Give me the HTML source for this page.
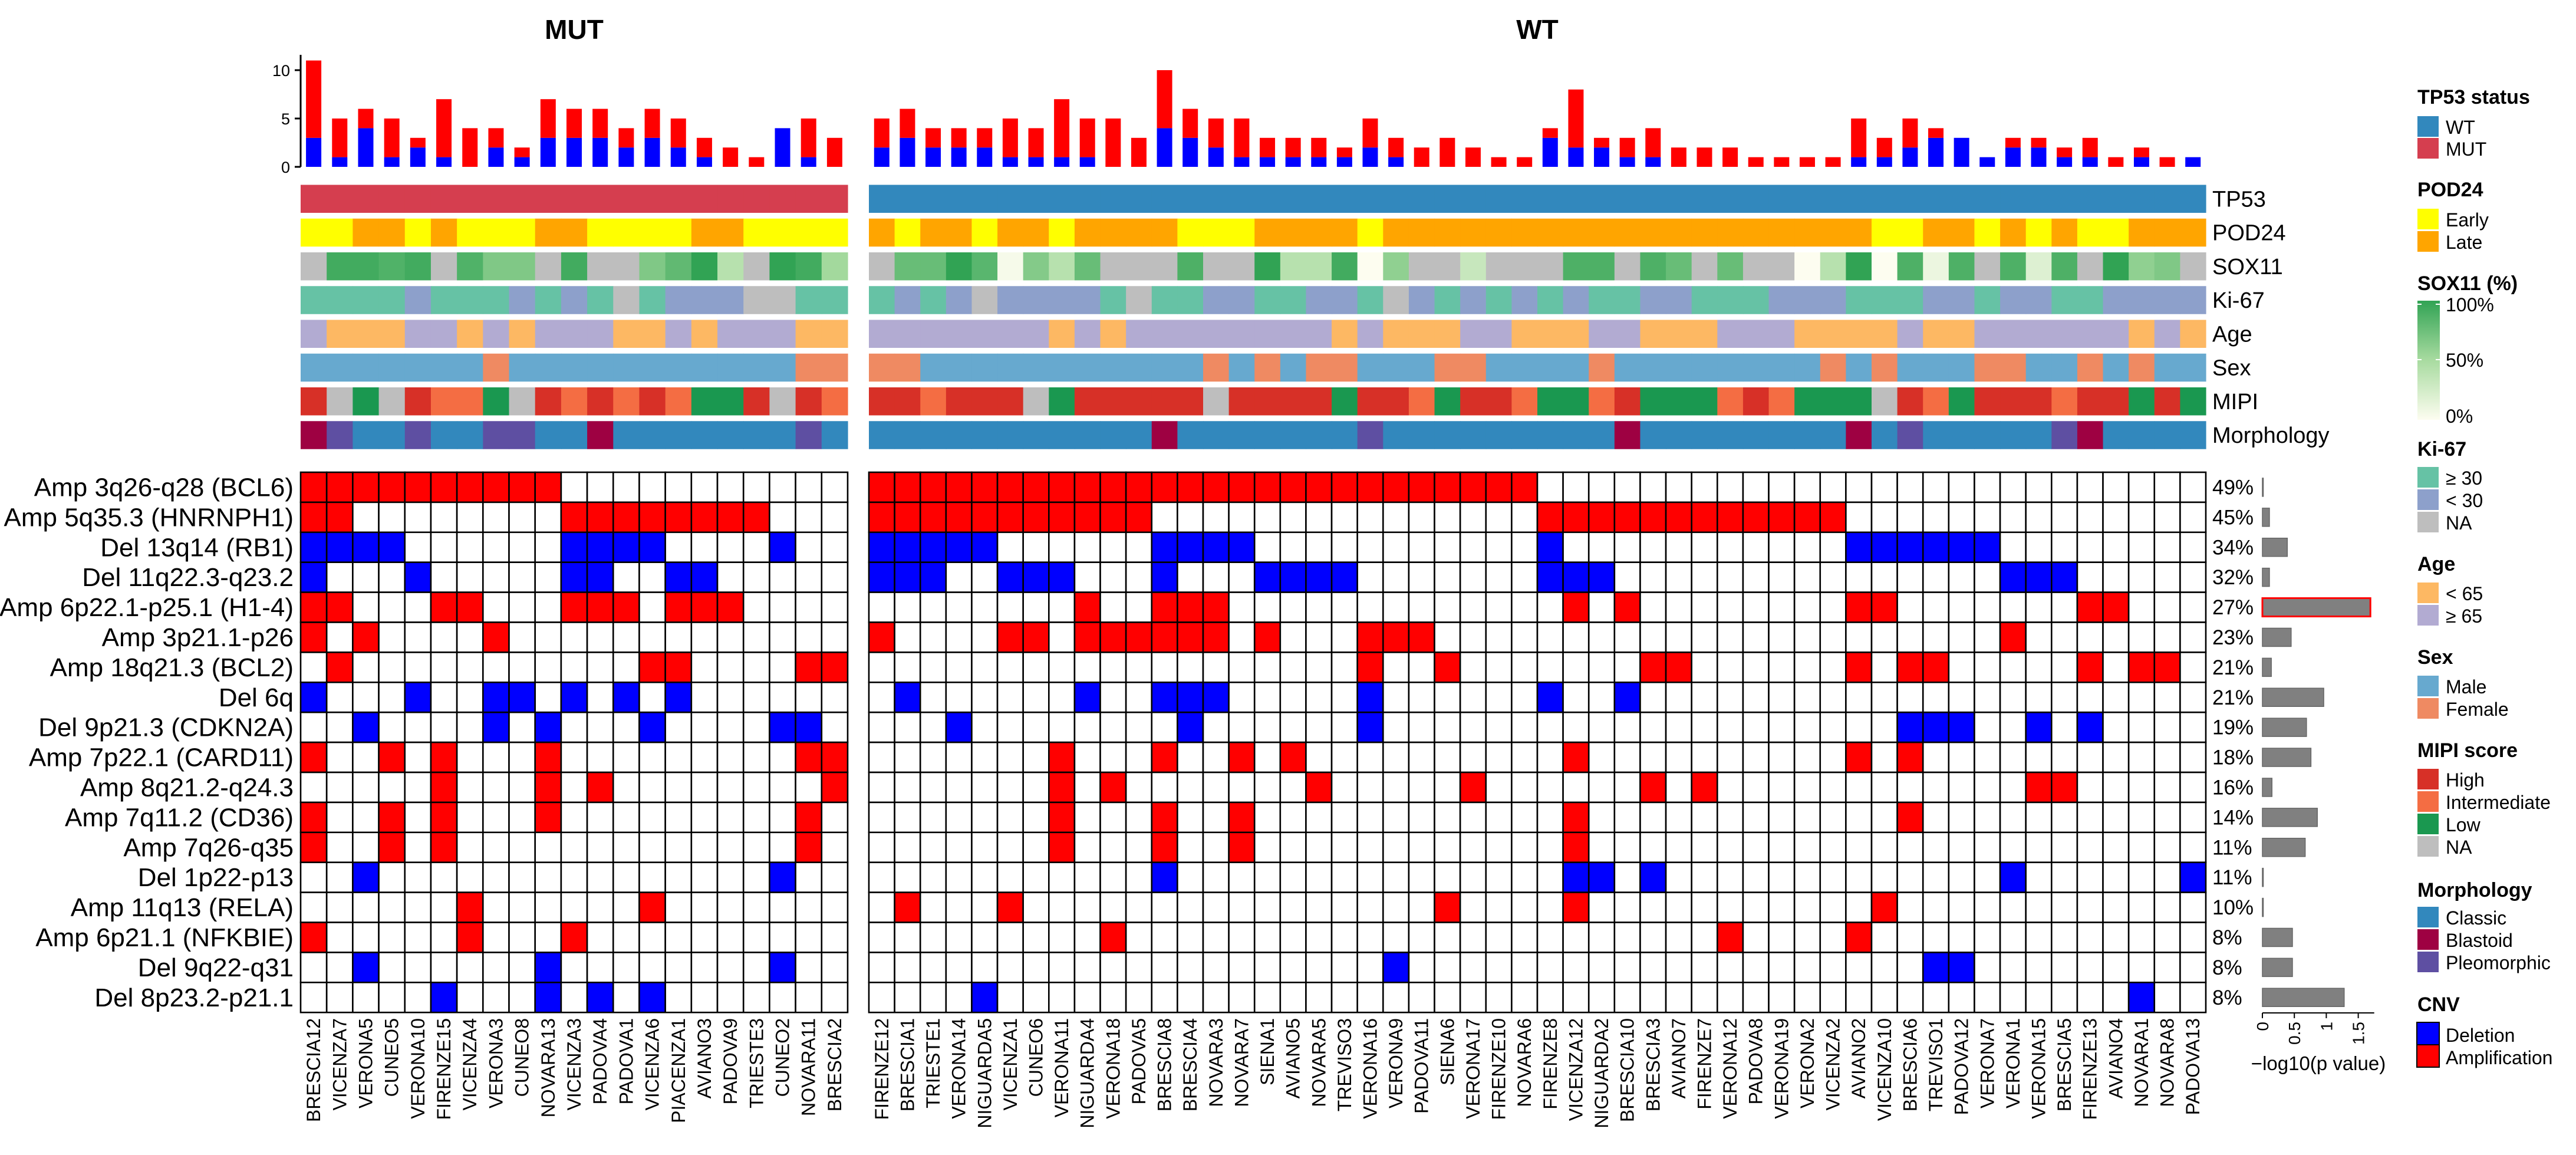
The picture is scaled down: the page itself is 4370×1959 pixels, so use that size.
<!DOCTYPE html>
<html><head><meta charset="utf-8"><title>CNV oncoprint</title>
<style>
html,body{margin:0;padding:0;background:#fff;}
svg{display:block;font-family:"Liberation Sans",Arial,sans-serif;}
</style></head>
<body>
<svg id="chart" xmlns="http://www.w3.org/2000/svg" width="4370" height="1959" viewBox="0 0 4370 1959">
<defs>
<linearGradient id="soxgrad" x1="0" y1="0" x2="0" y2="1">
<stop offset="0" stop-color="#31a354"/><stop offset="0.5" stop-color="#a8dba0"/><stop offset="1" stop-color="#fdfdf0"/>
</linearGradient>
</defs>
<text x="974" y="66" font-size="46" font-weight="bold" text-anchor="middle">MUT</text>
<text x="2608" y="66" font-size="46" font-weight="bold" text-anchor="middle">WT</text>
<g id="legend" font-size="32">
<text x="4101" y="176" font-size="34" font-weight="bold">TP53 status</text>
<rect x="4101" y="197" width="36" height="35" fill="#3288bd"/><text x="4149" y="227">WT</text>
<rect x="4101" y="234" width="36" height="35" fill="#d53e4f"/><text x="4149" y="264">MUT</text>
<text x="4101" y="333" font-size="34" font-weight="bold">POD24</text>
<rect x="4101" y="354" width="36" height="35" fill="#ffff00"/><text x="4149" y="384">Early</text>
<rect x="4101" y="392" width="36" height="35" fill="#ffa500"/><text x="4149" y="422">Late</text>
<text x="4101" y="492" font-size="34" font-weight="bold">SOX11 (%)</text>
<rect x="4101" y="510" width="38" height="202" fill="url(#soxgrad)"/>
<line x1="4101" y1="516" x2="4108" y2="516" stroke="#fff" stroke-width="2"/><line x1="4132" y1="516" x2="4139" y2="516" stroke="#fff" stroke-width="2"/>
<line x1="4101" y1="610" x2="4108" y2="610" stroke="#fff" stroke-width="2"/><line x1="4132" y1="610" x2="4139" y2="610" stroke="#fff" stroke-width="2"/>
<text x="4149" y="528">100%</text>
<text x="4149" y="622">50%</text>
<text x="4149" y="717">0%</text>
<text x="4101" y="773" font-size="34" font-weight="bold">Ki-67</text>
<rect x="4101" y="792" width="36" height="35" fill="#66c2a5"/><text x="4149" y="822">≥ 30</text>
<rect x="4101" y="830" width="36" height="35" fill="#8da0cb"/><text x="4149" y="860">&lt; 30</text>
<rect x="4101" y="868" width="36" height="35" fill="#bebebe"/><text x="4149" y="898">NA</text>
<text x="4101" y="968" font-size="34" font-weight="bold">Age</text>
<rect x="4101" y="988" width="36" height="35" fill="#fdb863"/><text x="4149" y="1018">&lt; 65</text>
<rect x="4101" y="1026" width="36" height="35" fill="#b2abd2"/><text x="4149" y="1056">≥ 65</text>
<text x="4101" y="1126" font-size="34" font-weight="bold">Sex</text>
<rect x="4101" y="1146" width="36" height="35" fill="#67a9cf"/><text x="4149" y="1176">Male</text>
<rect x="4101" y="1184" width="36" height="35" fill="#ef8a62"/><text x="4149" y="1214">Female</text>
<text x="4101" y="1284" font-size="34" font-weight="bold">MIPI score</text>
<rect x="4101" y="1304" width="36" height="35" fill="#d73027"/><text x="4149" y="1334">High</text>
<rect x="4101" y="1342" width="36" height="35" fill="#f46d43"/><text x="4149" y="1372">Intermediate</text>
<rect x="4101" y="1380" width="36" height="35" fill="#1a9850"/><text x="4149" y="1410">Low</text>
<rect x="4101" y="1418" width="36" height="35" fill="#bebebe"/><text x="4149" y="1448">NA</text>
<text x="4101" y="1521" font-size="34" font-weight="bold">Morphology</text>
<rect x="4101" y="1538" width="36" height="35" fill="#3288bd"/><text x="4149" y="1568">Classic</text>
<rect x="4101" y="1576" width="36" height="35" fill="#9e0142"/><text x="4149" y="1606">Blastoid</text>
<rect x="4101" y="1614" width="36" height="35" fill="#5e4fa2"/><text x="4149" y="1644">Pleomorphic</text>
<text x="4101" y="1715" font-size="34" font-weight="bold">CNV</text>
<rect x="4100" y="1734" width="38" height="38" fill="#0000ff" stroke="#000" stroke-width="2"/><text x="4149" y="1767">Deletion</text>
<rect x="4100" y="1772" width="38" height="38" fill="#ff0000" stroke="#000" stroke-width="2"/><text x="4149" y="1805">Amplification</text>
</g>
</svg>
<script>
// ---------- data ----------
const rowLabels = ["Amp 3q26-q28 (BCL6)","Amp 5q35.3 (HNRNPH1)","Del 13q14 (RB1)","Del 11q22.3-q23.2","Amp 6p22.1-p25.1 (H1-4)","Amp 3p21.1-p26","Amp 18q21.3 (BCL2)","Del 6q","Del 9p21.3 (CDKN2A)","Amp 7p22.1 (CARD11)","Amp 8q21.2-q24.3","Amp 7q11.2 (CD36)","Amp 7q26-q35","Del 1p22-p13","Amp 11q13 (RELA)","Amp 6p21.1 (NFKBIE)","Del 9q22-q31","Del 8p23.2-p21.1"];
const mutSamples = ["BRESCIA12","VICENZA7","VERONA5","CUNEO5","VERONA10","FIRENZE15","VICENZA4","VERONA3","CUNEO8","NOVARA13","VICENZA3","PADOVA4","PADOVA1","VICENZA6","PIACENZA1","AVIANO3","PADOVA9","TRIESTE3","CUNEO2","NOVARA11","BRESCIA2"];
const wtSamples = ["FIRENZE12","BRESCIA1","TRIESTE1","VERONA14","NIGUARDA5","VICENZA1","CUNEO6","VERONA11","NIGUARDA4","VERONA18","PADOVA5","BRESCIA8","BRESCIA4","NOVARA3","NOVARA7","SIENA1","AVIANO5","NOVARA5","TREVISO3","VERONA16","VERONA9","PADOVA11","SIENA6","VERONA17","FIRENZE10","NOVARA6","FIRENZE8","VICENZA12","NIGUARDA2","BRESCIA10","BRESCIA3","AVIANO7","FIRENZE7","VERONA12","PADOVA8","VERONA19","VERONA2","VICENZA2","AVIANO2","VICENZA10","BRESCIA6","TREVISO1","PADOVA12","VERONA7","VERONA1","VERONA15","BRESCIA5","FIRENZE13","AVIANO4","NOVARA1","NOVARA8","PADOVA13"];
// altered sample positions (1-based) per alteration row
const mutAltered = [[1,2,3,4,5,6,7,8,9,10],[1,2,11,12,13,14,15,16,17,18],[1,2,3,4,11,12,13,14,19],[1,5,11,12,15,16],[1,2,6,7,11,12,13,15,16,17],[1,3,8],[2,14,15,20,21],[1,5,8,9,11,13,15],[3,8,10,14,19,20],[1,4,6,10,20,21],[6,10,12,21],[1,4,6,10,20],[1,4,6,20],[3,19],[7,14],[1,7,11],[3,10,19],[6,10,12,14]];
const wtAltered = [[1,2,3,4,5,6,7,8,9,10,11,12,13,14,15,16,17,18,19,20,21,22,23,24,25,26],[1,2,3,4,5,6,7,8,9,10,11,27,28,29,30,31,32,33,34,35,36,37,38],[1,2,3,4,5,12,13,14,15,27,39,40,41,42,43,44],[1,2,3,6,7,8,12,16,17,18,19,27,28,29,45,46,47],[9,12,13,14,28,30,39,40,48,49],[1,6,7,9,10,11,12,13,14,16,20,21,22,45],[20,23,31,32,39,41,42,48,50,51],[2,9,12,13,14,20,27,30],[4,13,20,41,42,43,46,48],[8,12,15,17,28,39,41],[8,10,18,24,31,33,46,47],[8,12,15,28,41],[8,12,15,28],[12,28,29,31,45,52],[2,6,23,28,40],[10,34,39],[21,42,43],[5,50]];
const pValues = [0.01,0.11,0.39,0.11,1.69,0.45,0.14,0.96,0.69,0.76,0.15,0.86,0.67,0.01,0.01,0.47,0.47,1.28];
const highlightRow = 4;
const pTicks = [0,0.5,1,1.5];
const barTicks = [0,5,10];
// clinical tracks
const trackNames = ["TP53","POD24","SOX11","Ki-67","Age","Sex","MIPI","Morphology"];
const mutPod = "EELLELEEELLEEEELLEEEE";
const wtPod  = "LELLELLELLLLEEELLLLELLLLLLLLLLLLLLLLLLLEELLELELEELLL";
const mutSox = [null,93,93,87,93,null,87,67,67,null,93,null,null,67,80,100,41,null,100,93,52];
const wtSox  = [null,77,77,100,83,4,65,41,77,null,null,null,88,null,null,100,41,41,93,0,60,null,null,32,null,null,null,88,88,null,88,77,null,77,null,null,0,41,100,0,88,10,88,null,88,19,88,null,100,60,67,null];
const mutKi = "TTTTBTTTBTBTGTBBBGGTT";
const wtKi  = "TBTBGBBBBTGTTBBTTBBTGBTBTBTBTTBBTTTBBBTTTBBTBBTTBBBB";
const mutAge = "POOOPPOPOPPPOOPOPPPOO";
const wtAge  = "PPPPPPPOPOPPPPPPPPOPOOOPPOOOPPOOOPPPOOOOPOOPPPPPPOPO";
const mutSex = "MMMMMMMFMMMMMMMMMMMFF";
const wtSex  = "FFMMMMMMMMMMMFMFMFFMMMFFMMMMFMMMMMMMMFMFMMMFFMMFMFMM";
const mutMipi = "HNLNHIILNHIHIHILLHNHI";
const wtMipi  = "HHIHHHNLHHHHHNHHHHLHHILHHILLIHLLLIHILLLNHILHHHIHHLHL";
const mutMorph = "BPCCPCCPPCCBCCCCCCCPC";
const wtMorph  = "CCCCCCCCCCCBCCCCCCCPCCCCCCCCCBCCCCCCCCBCPCCCCCPBCCCC";

// ---------- layout ----------
const NS = "http://www.w3.org/2000/svg";
const svg = document.getElementById("chart");
const panels = [
  {name:"mut", x0:510, x1:1438, samples:mutSamples, altered:mutAltered, tp53:"MUT", pod:mutPod, sox:mutSox, ki:mutKi, age:mutAge, sex:mutSex, mipi:mutMipi, morph:mutMorph},
  {name:"wt", x0:1474, x1:3742, samples:wtSamples, altered:wtAltered, tp53:"WT", pod:wtPod, sox:wtSox, ki:wtKi, age:wtAge, sex:wtSex, mipi:wtMipi, morph:wtMorph}
];
const matY0 = 801, rowH = 50.9;
const barBase = 283, barUnit = 16.4, barW = 26;
const trackY0 = 313.5, trackStep = 57.25, trackH = 47.5;
const pX0 = 3838, pUnit = 108.4;
function yRow(r){ return matY0 + r*rowH; }
function colX(p,i){ return p.x0 + i*(p.x1-p.x0)/p.samples.length; }
function colW(p){ return (p.x1-p.x0)/p.samples.length; }
function yBar(v){ return barBase - v*barUnit; }
function xP(v){ return pX0 + v*pUnit; }
function el(tag, attrs, parent){
  const e = document.createElementNS(NS, tag);
  for (const k in attrs) e.setAttribute(k, attrs[k]);
  (parent||svg).appendChild(e);
  return e;
}
function hex(c){ return [parseInt(c.slice(1,3),16),parseInt(c.slice(3,5),16),parseInt(c.slice(5,7),16)]; }
function mix(a,b,t){ const A=hex(a),B=hex(b); return "rgb("+A.map((v,i)=>Math.round(v+(B[i]-v)*t)).join(",")+")"; }
function soxColor(v){
  if (v===null) return "#bebebe";
  if (v<=50) return mix("#fdfdf0","#a8dba0",v/50);
  return mix("#a8dba0","#31a354",(v-50)/50);
}
const catColors = {
  pod:{E:"#ffff00",L:"#ffa500"},
  ki:{T:"#66c2a5",B:"#8da0cb",G:"#bebebe"},
  age:{O:"#fdb863",P:"#b2abd2"},
  sex:{M:"#67a9cf",F:"#ef8a62"},
  mipi:{H:"#d73027",I:"#f46d43",L:"#1a9850",N:"#bebebe"},
  morph:{C:"#3288bd",B:"#9e0142",P:"#5e4fa2"}
};
const nTotal = mutSamples.length + wtSamples.length;

// ---------- top bar axis ----------
const axisG = el("g",{});


const axLine = el("line",{x1:510,y1:93,x2:510,y2:barBase,stroke:"#000","stroke-width":3},axisG);


barTicks.forEach(t=>{
  const tk = el("line",{x1:500,y1:yBar(t),x2:510,y2:yBar(t),stroke:"#000","stroke-width":3},axisG);
  
  
  const tl = el("text",{x:492,y:yBar(t)+10,"font-size":27,"text-anchor":"end"},axisG);
  
  
  tl.textContent = t;
});

panels.forEach(p=>{
  const w = colW(p);
  const barG = el("g",{});
  
  
  p.samples.forEach((s,i)=>{
    let amp=0, del=0;
    p.altered.forEach((cols,r)=>{
      if (cols.indexOf(i+1)>=0){ if (rowLabels[r].startsWith("Del")) del++; else amp++; }
    });
    const cx = colX(p,i)+w/2;
    if (del>0){
      const b = el("rect",{x:cx-barW/2,y:yBar(del),width:barW,height:yBar(0)-yBar(del),fill:"#0000ff"},barG);
      
      
    }
    if (amp>0){
      const b = el("rect",{x:cx-barW/2,y:yBar(del+amp),width:barW,height:yBar(del)-yBar(del+amp),fill:"#ff0000"},barG);
      
      
    }
  });
  const trackG = el("g",{});
  
  
  const getters = [
    i=> p.tp53==="WT" ? "#3288bd" : "#d53e4f",
    i=> catColors.pod[p.pod[i]],
    i=> soxColor(p.sox[i]),
    i=> catColors.ki[p.ki[i]],
    i=> catColors.age[p.age[i]],
    i=> catColors.sex[p.sex[i]],
    i=> catColors.mipi[p.mipi[i]],
    i=> catColors.morph[p.morph[i]]
  ];
  getters.forEach((g,t)=>{
    p.samples.forEach((s,i)=>{
      const c = g(i);
      const r = el("rect",{x:colX(p,i),y:trackY0+t*trackStep,width:w+0.6,height:trackH,fill:c},trackG);
      
      
    });
  });
  const matG = el("g",{});
  
  
  rowLabels.forEach((lab,r)=>{
    const isDel = lab.startsWith("Del");
    p.samples.forEach((s,i)=>{
      const hit = p.altered[r].indexOf(i+1)>=0;
      const cell = el("rect",{x:colX(p,i),y:yRow(r),width:w,height:rowH,fill: hit ? (isDel?"#0000ff":"#ff0000") : "#ffffff",stroke:"#000","stroke-width":2.6},matG);
      
      
    });
  });
  const labG = el("g",{"font-size":32});
  
  
  p.samples.forEach((s,i)=>{
    const x = colX(p,i)+w/2+11;
    const t = el("text",{x:0,y:0,"text-anchor":"end",transform:"translate("+x+",1727) rotate(-90)"},labG);
    
    
    t.textContent = s;
  });
});

const rowG = el("g",{"font-size":44});


const pctG = el("g",{"font-size":35});


const pG = el("g",{});


rowLabels.forEach((lab,r)=>{
  const cy = yRow(r)+rowH/2;
  const t = el("text",{x:498,y:cy+15,"text-anchor":"end"},rowG);
  
  
  t.textContent = lab;
  const n = mutAltered[r].length + wtAltered[r].length;
  const pc = el("text",{x:3753,y:cy+12},pctG);
  
  
  pc.textContent = Math.round(100*n/nTotal)+"%";
  const hl = r===highlightRow;
  const b = el("rect",{x:xP(0),y:cy-15.5,width:Math.max(xP(pValues[r])-xP(0),1.5),height:31,fill:"#808080",stroke:hl?"#ff0000":"#666666","stroke-width":hl?3:1.5},pG);
  
  
});
const pAxis = el("line",{x1:xP(0),y1:1718,x2:xP(1.75),y2:1718,stroke:"#000","stroke-width":2},pG);


pTicks.forEach(t=>{
  const tk = el("line",{x1:xP(t),y1:1718,x2:xP(t),y2:1727,stroke:"#000","stroke-width":2},pG);
  
  
  const tl = el("text",{x:0,y:0,"font-size":28,"text-anchor":"end",transform:"translate("+(xP(t)+10)+",1733) rotate(-90)"},pG);
  
  
  tl.textContent = t;
});
const pTitle = el("text",{x:3933,y:1815,"font-size":33,"text-anchor":"middle"},pG);


pTitle.textContent = "\u2212log10(p value)";

const tlG = el("g",{"font-size":38});


trackNames.forEach((n,t)=>{
  const tx = el("text",{x:3753,y:trackY0+t*trackStep+trackH/2+13},tlG);
  
  
  tx.textContent = n;
});
</script>
</body></html>
